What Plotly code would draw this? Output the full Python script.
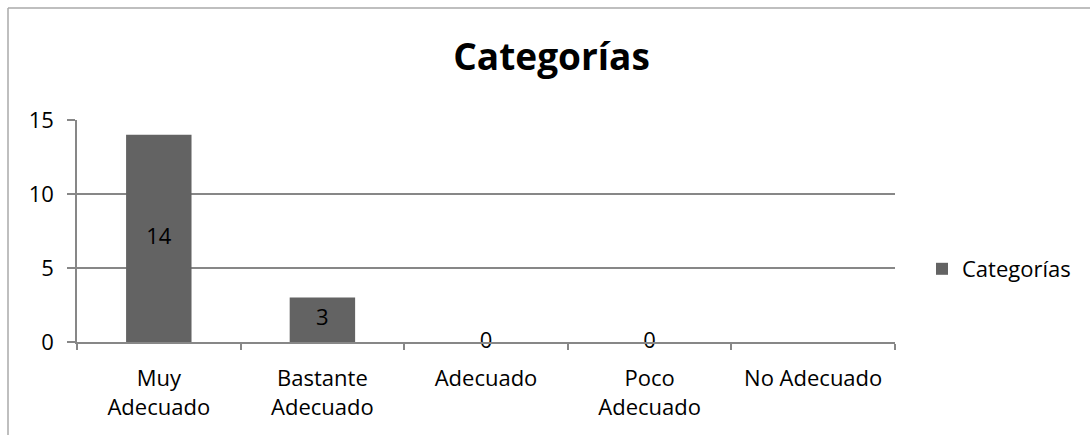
import plotly.graph_objects as go

categories = ["Muy<br>Adecuado", "Bastante<br>Adecuado", "Adecuado", "Poco<br>Adecuado", "No Adecuado"]
values = [14, 3, 0, 0, None]
label_text = ["14", "3", "0", "0", ""]

W, H = 1090, 435
L, R, T, B = 77, 195, 120, 93
FONT = "Open Sans, Carlito, Calibri, sans-serif"
FS = 22
BAR = "#636363"
GRID = "#878787"

fig = go.Figure()
fig.add_trace(go.Bar(
    x=categories, y=[v if v is not None else 0 for v in values],
    name="Categorías", marker=dict(color=BAR, line=dict(width=0)),
    width=0.4, showlegend=True,
))
# value labels centred on each bar
fig.add_trace(go.Scatter(
    x=[c for c, v in zip(categories, values) if v is not None],
    y=[v / 2 for v in values if v is not None],
    text=[t for t, v in zip(label_text, values) if v is not None],
    mode="text", textfont=dict(family=FONT, size=FS, color="#000"),
    showlegend=False, hoverinfo="skip", cliponaxis=False,
))

pw = W - L - R
ph = H - T - B
def px(x):
    return (x - L) / pw
def py(y):
    return (H - B - y) / ph

fig.update_layout(
    width=W, height=H,
    margin=dict(l=L, r=R, t=T, b=B),
    paper_bgcolor="white", plot_bgcolor="white",
    font=dict(family=FONT, size=FS, color="#000"),
    title=dict(text="<b>Categorías</b>", x=0.506, xanchor="center",
               y=1 - 57 / H, yanchor="middle",
               font=dict(family=FONT, size=37, color="#000")),
    legend=dict(x=px(922), y=py(269), xanchor="left", yanchor="middle",
                font=dict(family=FONT, size=FS), itemwidth=30,
                bgcolor="rgba(0,0,0,0)"),
    bargap=0.6,
    shapes=[
        dict(type="line", xref="paper", yref="paper", x0=px(8), x1=px(W + 5),
             y0=py(8), y1=py(8), line=dict(color="#aaaaaa", width=1.5)),
        dict(type="line", xref="paper", yref="paper", x0=px(8), x1=px(8),
             y0=py(8), y1=py(H + 5), line=dict(color="#aaaaaa", width=1.5)),
    ],
)
fig.update_xaxes(
    type="category", showgrid=False, showline=True, linecolor=GRID, linewidth=1.5,
    ticks="outside", tickson="boundaries", ticklen=6, tickcolor=GRID, tickwidth=1.5,
    ticklabelstandoff=16,
    tickfont=dict(family=FONT, size=FS), fixedrange=True,
)
fig.update_yaxes(
    range=[0, 15], dtick=5, showgrid=True, gridcolor=GRID, gridwidth=1.5,
    showline=True, linecolor=GRID, linewidth=1.5, zeroline=False,
    ticks="outside", ticklen=8, tickcolor=GRID, tickwidth=1.5,
    ticklabelstandoff=9,
    tickfont=dict(family=FONT, size=FS), fixedrange=True,
)

fig.write_html("out.html")
